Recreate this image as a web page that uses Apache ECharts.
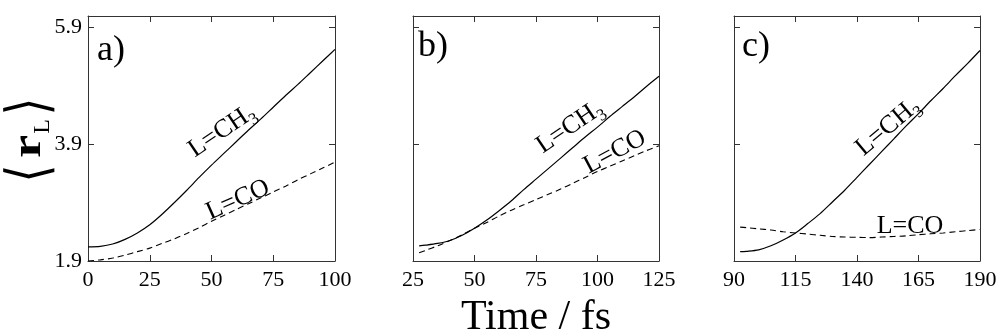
<!DOCTYPE html>
<html>
<head>
<meta charset="utf-8">
<script src="https://cdn.jsdelivr.net/npm/echarts@6/dist/echarts.min.js"></script>
<style>
  html, body { margin: 0; padding: 0; background: #fff; }
  #chart { width: 1001px; height: 336px; }
</style>
</head>
<body>
<div id="chart"></div>
<script>
// Mean L–fragment distance <r_L> versus time for three trajectories
const panelLetters = ['a)', 'b)', 'c)'];

const timeA = [0, 5, 10, 15, 20, 25, 30, 35, 40, 45, 50, 55, 60, 65, 70, 75, 80, 85, 90, 95, 100];
const ch3A  = [2.14, 2.15, 2.19, 2.27, 2.38, 2.52, 2.70, 2.90, 3.11, 3.33, 3.54, 3.74, 3.94, 4.14, 4.33, 4.53, 4.73, 4.92, 5.12, 5.32, 5.52];
const coA   = [1.90, 1.92, 1.95, 2.00, 2.06, 2.12, 2.20, 2.28, 2.37, 2.47, 2.58, 2.68, 2.78, 2.88, 2.98, 3.08, 3.18, 3.29, 3.39, 3.49, 3.59];

const timeB = [27.5, 30, 35, 40, 45, 50, 55, 60, 65, 70, 75, 80, 85, 90, 95, 100, 105, 110, 115, 120, 125];
const ch3B  = [2.16, 2.17, 2.20, 2.25, 2.34, 2.46, 2.60, 2.76, 2.93, 3.12, 3.30, 3.48, 3.66, 3.84, 4.02, 4.19, 4.37, 4.54, 4.71, 4.89, 5.06];
const coB   = [2.04, 2.08, 2.16, 2.25, 2.35, 2.46, 2.56, 2.67, 2.77, 2.86, 2.95, 3.04, 3.13, 3.23, 3.33, 3.43, 3.52, 3.61, 3.70, 3.79, 3.87];

const timeC = [92.5, 95, 100, 105, 110, 115, 120, 125, 130, 135, 140, 145, 150, 155, 160, 165, 170, 175, 180, 185, 190];
const ch3C  = [2.06, 2.065, 2.09, 2.16, 2.26, 2.38, 2.54, 2.71, 2.91, 3.11, 3.33, 3.55, 3.77, 3.99, 4.21, 4.42, 4.64, 4.85, 5.07, 5.28, 5.50];
const coC   = [2.48, 2.47, 2.45, 2.43, 2.40, 2.38, 2.36, 2.34, 2.32, 2.31, 2.305, 2.30, 2.31, 2.32, 2.33, 2.35, 2.365, 2.38, 2.40, 2.42, 2.44];

const xTicksA = [0, 25, 50, 75, 100];
const xTicksB = [25, 50, 75, 100, 125];
const xTicksC = [90, 115, 140, 165, 190];
const yTicks  = [1.9, 3.9, 5.9];
const yRange  = [1.9, 6.09];

const panels = [
  { time: timeA, ch3: ch3A, co: coA, ticks: xTicksA },
  { time: timeB, ch3: ch3B, co: coB, ticks: xTicksB },
  { time: timeC, ch3: ch3C, co: coC, ticks: xTicksC }
];

const SERIF = '"Liberation Serif", "Times New Roman", serif';
const FRAME = '#333';

const grids = [
  { left: 88,  top: 16, width: 247, height: 245 },
  { left: 413, top: 16, width: 246, height: 245 },
  { left: 734, top: 16, width: 246, height: 245 }
];

const xAxes = [];
const yAxes = [];
const series = [];

panels.forEach((p, i) => {
  const xr = [p.ticks[0], p.ticks[p.ticks.length - 1]];
  ['bottom', 'top'].forEach(pos => {
    xAxes.push({
      type: 'value', gridIndex: i, position: pos, min: xr[0], max: xr[1],
      axisLine: { show: true, onZero: false, lineStyle: { color: FRAME, width: 1 } },
      axisTick: { show: true, inside: true, length: 6, customValues: p.ticks, lineStyle: { color: FRAME } },
      axisLabel: {
        show: pos === 'bottom', customValues: p.ticks, margin: 8, hideOverlap: false,
        fontFamily: SERIF, fontSize: 22, color: '#000'
      },
      splitLine: { show: false }
    });
  });
  ['left', 'right'].forEach(pos => {
    yAxes.push({
      type: 'value', gridIndex: i, position: pos, min: yRange[0], max: yRange[1],
      axisLine: { show: true, onZero: false, lineStyle: { color: FRAME, width: 1 } },
      axisTick: { show: true, inside: true, length: 6, customValues: yTicks, lineStyle: { color: FRAME } },
      axisLabel: {
        show: pos === 'left' && i === 0, customValues: yTicks, margin: 6, hideOverlap: false,
        fontFamily: SERIF, fontSize: 22, color: '#000',
        formatter: v => v.toFixed(1)
      },
      splitLine: { show: false }
    });
  });
  series.push({
    type: 'line', xAxisIndex: 2 * i, yAxisIndex: 2 * i, smooth: 0.3, symbol: 'none',
    data: p.time.map((t, k) => [t, p.ch3[k]]),
    lineStyle: { color: '#000', width: 1.2 }
  });
  series.push({
    type: 'line', xAxisIndex: 2 * i, yAxisIndex: 2 * i, smooth: 0.3, symbol: 'none',
    data: p.time.map((t, k) => [t, p.co[k]]),
    lineStyle: { color: '#000', width: 1.1, type: [6, 4] }
  });
});

const deg = d => d * Math.PI / 180;
const labelRich = {
  m: { fontFamily: SERIF, fontSize: 26, color: '#000', lineHeight: 34 },
  s: { fontFamily: SERIF, fontSize: 17, color: '#000', lineHeight: 17, verticalAlign: 'bottom' }
};
function curveLabel(text, x, y, angle) {
  return {
    type: 'text', x: x, y: y, rotation: deg(angle), silent: true,
    style: { text: text, rich: labelRich, align: 'center', verticalAlign: 'middle' }
  };
}

const graphics = [
  // panel letters
  { type: 'text', x: 97,  y: 51, style: { text: panelLetters[0], font: '36px ' + SERIF, fill: '#000', verticalAlign: 'middle' } },
  { type: 'text', x: 418, y: 47, style: { text: panelLetters[1], font: '36px ' + SERIF, fill: '#000', verticalAlign: 'middle' } },
  { type: 'text', x: 742, y: 47, style: { text: panelLetters[2], font: '36px ' + SERIF, fill: '#000', verticalAlign: 'middle' } },
  // curve labels
  curveLabel('{m|L=CH}{s|3}', 222, 131, 34),
  curveLabel('{m|L=CO}', 238, 200, 24),
  curveLabel('{m|L=CH}{s|3}', 570, 127, 34),
  curveLabel('{m|L=CO}', 615, 152, 28),
  curveLabel('{m|L=CH}{s|3}', 888, 127, 40),
  curveLabel('{m|L=CO}', 910, 226, 0),
  // x axis title
  { type: 'text', x: 536, y: 318, style: { text: 'Time / fs', font: '42px ' + SERIF, fill: '#000', align: 'center', verticalAlign: 'middle' } },
  // y axis title <r_L>, reading upward
  {
    type: 'group', x: 32, y: 139.5, rotation: Math.PI / 2,
    children: [
      { type: 'text', x: -34, y: 0, scaleY: 1.25, style: { text: '⟨', font: '46px "DejaVu Sans"', fill: '#000', align: 'center', verticalAlign: 'middle' } },
      { type: 'text', x: -7, y: -2, scaleX: 1.3, style: { text: 'r', font: 'bold 40px ' + SERIF, fill: '#000', align: 'center', verticalAlign: 'middle' } },
      { type: 'text', x: 13, y: 11, style: { text: 'L', font: '24px ' + SERIF, fill: '#000', align: 'center', verticalAlign: 'middle' } },
      { type: 'text', x: 33, y: 0, scaleY: 1.25, style: { text: '⟩', font: '46px "DejaVu Sans"', fill: '#000', align: 'center', verticalAlign: 'middle' } }
    ]
  }
];

const chart = echarts.init(document.getElementById('chart'), null, { renderer: 'canvas' });
chart.setOption({
  animation: false,
  backgroundColor: '#fff',
  grid: grids,
  xAxis: xAxes,
  yAxis: yAxes,
  series: series,
  graphic: graphics
});
</script>
</body>
</html>
